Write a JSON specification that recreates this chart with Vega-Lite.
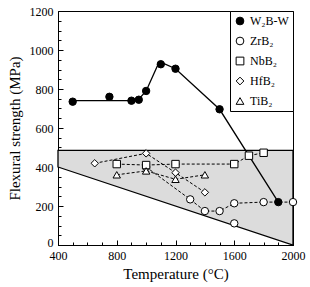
{
  "$schema": "https://vega.github.io/schema/vega-lite/v6.json",
  "width": 235,
  "height": 234,
  "autosize": "none",
  "padding": {"left": 58, "top": 11, "right": 17, "bottom": 42},
  "background": "white",
  "config": {
    "font": "Liberation Serif",
    "view": {"stroke": "black", "strokeWidth": 1},
    "axis": {
      "grid": false,
      "domainColor": "black",
      "tickColor": "black",
      "labelColor": "black",
      "titleColor": "black",
      "labelFont": "Liberation Serif",
      "titleFont": "Liberation Serif",
      "labelFontSize": 12,
      "titleFontSize": 15,
      "titleFontWeight": "normal",
      "labelOverlap": false,
      "labelFlush": false
    },
    "legend": {
      "labelFont": "Liberation Serif",
      "labelFontSize": 12,
      "labelColor": "black",
      "strokeColor": "black",
      "fillColor": "white",
      "padding": 4,
      "rowPadding": 8,
      "symbolSize": 60,
      "symbolStrokeWidth": 1,
      "labelOffset": 4
    }
  },
  "datasets": {
    "band": [
      {"t": 400, "v": 400, "v2": 485},
      {"t": 2000, "v": 0, "v2": 485}
    ],
    "fit": [
      {"t": 500, "v": 740},
      {"t": 900, "v": 740},
      {"t": 950, "v": 748},
      {"t": 1000, "v": 790},
      {"t": 1085, "v": 932},
      {"t": 1115, "v": 932},
      {"t": 1200, "v": 904},
      {"t": 1500, "v": 696},
      {"t": 1900, "v": 220}
    ],
    "pts": [
      {"s": "W₂B-W", "g": "W", "t": 500, "v": 735},
      {"s": "W₂B-W", "g": "W", "t": 750, "v": 760},
      {"s": "W₂B-W", "g": "W", "t": 900, "v": 740},
      {"s": "W₂B-W", "g": "W", "t": 950, "v": 745},
      {"s": "W₂B-W", "g": "W", "t": 1000, "v": 790},
      {"s": "W₂B-W", "g": "W", "t": 1100, "v": 927},
      {"s": "W₂B-W", "g": "W", "t": 1200, "v": 904},
      {"s": "W₂B-W", "g": "W", "t": 1500, "v": 696},
      {"s": "W₂B-W", "g": "W", "t": 1900, "v": 220},
      {"s": "ZrB₂", "g": "Zr", "t": 1000, "v": 400},
      {"s": "ZrB₂", "g": "Zr", "t": 1300, "v": 234},
      {"s": "ZrB₂", "g": "Zr", "t": 1400, "v": 174},
      {"s": "ZrB₂", "g": "Zr", "t": 1500, "v": 174},
      {"s": "ZrB₂", "g": "Zr", "t": 1600, "v": 214},
      {"s": "ZrB₂", "g": "Zr", "t": 1800, "v": 220},
      {"s": "ZrB₂", "g": "Zr", "t": 2000, "v": 220},
      {"s": "ZrB₂", "g": "Zr2", "t": 1600, "v": 111},
      {"s": "NbB₂", "g": "Nb", "t": 800, "v": 415},
      {"s": "NbB₂", "g": "Nb", "t": 1000, "v": 410},
      {"s": "NbB₂", "g": "Nb", "t": 1200, "v": 415},
      {"s": "NbB₂", "g": "Nb", "t": 1600, "v": 415},
      {"s": "NbB₂", "g": "Nb", "t": 1700, "v": 458},
      {"s": "NbB₂", "g": "Nb", "t": 1800, "v": 473},
      {"s": "HfB₂", "g": "Hf", "t": 650, "v": 419},
      {"s": "HfB₂", "g": "Hf", "t": 1000, "v": 470},
      {"s": "HfB₂", "g": "Hf", "t": 1200, "v": 371},
      {"s": "HfB₂", "g": "Hf", "t": 1400, "v": 270},
      {"s": "TiB₂", "g": "Ti", "t": 800, "v": 360},
      {"s": "TiB₂", "g": "Ti", "t": 1000, "v": 380},
      {"s": "TiB₂", "g": "Ti", "t": 1200, "v": 337},
      {"s": "TiB₂", "g": "Ti", "t": 1400, "v": 360}
    ]
  },
  "encoding": {
    "x": {
      "field": "t",
      "type": "quantitative",
      "title": "Temperature (°C)",
      "scale": {"domain": [400, 2000], "nice": false, "zero": false},
      "axis": {
        "values": [400, 500, 600, 700, 800, 900, 1000, 1100, 1200, 1300, 1400, 1500, 1600, 1700, 1800, 1900, 2000],
        "labelExpr": "datum.value % 400 === 0 ? datum.label : ''",
        "format": "d",
        "tickSize": {"condition": {"test": "datum.value % 400 === 0", "value": -5}, "value": -3},
        "labelPadding": 10,
        "titlePadding": 3
      }
    },
    "y": {
      "field": "v",
      "type": "quantitative",
      "title": "Flexural strength (MPa)",
      "scale": {"domain": [0, 1200], "nice": false, "zero": false},
      "axis": {
        "values": [0, 50, 100, 150, 200, 250, 300, 350, 400, 450, 500, 550, 600, 650, 700, 750, 800, 850, 900, 950, 1000, 1050, 1100, 1150, 1200],
        "labelExpr": "datum.value % 200 === 0 ? datum.label : ''",
        "format": "d",
        "tickSize": {"condition": {"test": "datum.value % 200 === 0", "value": -5}, "value": -3},
        "labelPadding": 10,
        "labelOffset": {"condition": {"test": "datum.value === 0", "value": -3}, "value": 0},
        "titlePadding": 7
      }
    }
  },
  "layer": [
    {
      "data": {"name": "band"},
      "mark": {"type": "area", "fill": "#dcdcdc", "stroke": "black", "strokeWidth": 1.3},
      "encoding": {"y2": {"field": "v2"}}
    },
    {
      "data": {"name": "pts"},
      "transform": [{"filter": "datum.g !== 'W'"}],
      "mark": {"type": "line", "stroke": "black", "strokeWidth": 1, "strokeDash": [3, 2]},
      "encoding": {
        "detail": {"field": "g"},
        "order": {"field": "t"}
      }
    },
    {
      "data": {"name": "fit"},
      "mark": {"type": "line", "stroke": "black", "strokeWidth": 1.3},
      "encoding": {"order": {"field": "t"}}
    },
    {
      "data": {"name": "pts"},
      "mark": {"type": "point", "filled": false, "stroke": "black", "strokeWidth": 1, "size": 55, "opacity": 1},
      "encoding": {
        "shape": {
          "field": "s",
          "type": "nominal",
          "scale": {"domain": ["W₂B-W", "ZrB₂", "NbB₂", "HfB₂", "TiB₂"], "range": ["circle", "circle", "square", "diamond", "triangle-up"]},
          "legend": {"title": null, "orient": "top-right", "offset": 0}
        },
        "fill": {
          "field": "s",
          "type": "nominal",
          "scale": {"domain": ["W₂B-W", "ZrB₂", "NbB₂", "HfB₂", "TiB₂"], "range": ["black", "white", "white", "white", "white"]},
          "legend": {"title": null, "orient": "top-right", "offset": 0}
        }
      }
    }
  ]
}
